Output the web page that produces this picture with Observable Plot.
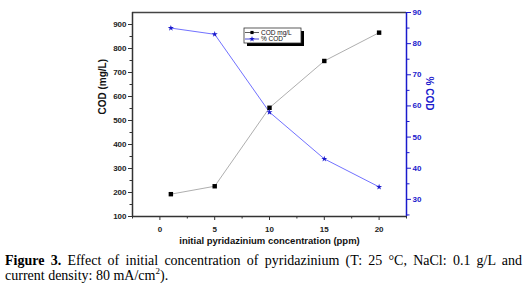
<!DOCTYPE html>
<html><head><meta charset="utf-8">
<script src="https://cdn.jsdelivr.net/npm/d3@7"></script>
<script src="https://cdn.jsdelivr.net/npm/@observablehq/plot@0.6"></script>
<style>
body{margin:0;background:#fff;width:527px;}
#chart svg{display:block;}
#cap{font-family:"Liberation Serif","Times New Roman",serif;font-size:14px;line-height:15px;color:#000;text-align:justify;padding:5px 5px 0 5px;margin:0;}
#cap sup{font-size:9px;line-height:0;}
</style></head>
<body><div id="chart"></div>
<p id="cap"><b>Figure 3.</b> Effect of initial concentration of pyridazinium (T: 25 °C, NaCl: 0.1 g/L and current density: 80 mA/cm<sup>2</sup>).</p>
<script>
const concentration = [1, 5, 10, 15, 20];
const codMgL = [193, 226, 553, 748, 866];
const pctCOD = [85, 83, 58, 43, 34];
const xTicks = [0, 5, 10, 15, 20];
const leftTicks = [100, 200, 300, 400, 500, 600, 700, 800, 900];
const rightTicks = [30, 40, 50, 60, 70, 80, 90];

const yDom = [100, 950];
const rDom = [24.5, 90];
const xDom = [-2.5, 22.5];
const toLeft = p => yDom[0] + (p - rDom[0]) / (rDom[1] - rDom[0]) * (yDom[1] - yDom[0]);

const codData = concentration.map((c, i) => ({x: c, y: codMgL[i]}));
const pctData = concentration.map((c, i) => ({x: c, p: pctCOD[i]}));

const xMinor = d3.range(xDom[0], xDom[1] + 0.01, 2.5).filter(v => !xTicks.includes(v));
const leftMinor = d3.range(150, 950, 100);
const rightMinor = d3.range(25, 90, 10);
const blue = "#1a1acc";
const font = "Liberation Sans, Arial, sans-serif";

const plot = Plot.plot({
  width: 527, height: 248,
  marginLeft: 132, marginRight: 121, marginTop: 12, marginBottom: 32,
  style: {fontFamily: font, fontSize: "8px", fontWeight: "bold", background: "#fff"},
  x: {domain: xDom},
  y: {domain: yDom},
  marks: [
    Plot.axisX({ticks: xTicks, tickSize: 4, tickPadding: 6, label: null, stroke: "#333", fill: "#222"}),
    Plot.axisX({ticks: xMinor, tickSize: 2.5, tickFormat: () => "", label: null, stroke: "#333"}),
    Plot.axisY({anchor: "left", ticks: leftTicks, tickSize: 4, tickPadding: 2, label: null, stroke: "#333", fill: "#222"}),
    Plot.axisY({anchor: "left", ticks: leftMinor, tickSize: 2.5, tickFormat: () => "", label: null, stroke: "#333"}),
    Plot.axisY({anchor: "right", ticks: rightTicks.map(toLeft), tickSize: 4, tickPadding: 2, label: null, stroke: blue, fill: blue,
      tickFormat: v => Math.round(rDom[0] + (v - yDom[0]) / (yDom[1] - yDom[0]) * (rDom[1] - rDom[0]))}),
    Plot.axisY({anchor: "right", ticks: rightMinor.map(toLeft), tickSize: 2.5, tickFormat: () => "", label: null, stroke: blue}),
    Plot.ruleY([yDom[1]], {stroke: "#444", strokeWidth: 1.5}),
    Plot.ruleY([yDom[0]], {stroke: "#333", strokeWidth: 1.5}),
    Plot.ruleX([xDom[0]], {stroke: "#333", strokeWidth: 1.5}),
    Plot.ruleX([xDom[1]], {stroke: blue, strokeWidth: 1.5}),
    Plot.line(codData, {x: "x", y: "y", stroke: "#999", strokeWidth: 0.8}),
    Plot.line(pctData, {x: "x", y: d => toLeft(d.p), stroke: "#3333ff", strokeWidth: 0.7}),
    Plot.dot(codData, {x: "x", y: "y", symbol: "square", r: 2.5, fill: "#000", stroke: "none"}),
    Plot.dot(pctData, {x: "x", y: d => toLeft(d.p), symbol: "star", r: 1.9, fill: blue, stroke: "none"}),
    Plot.text(["COD (mg/L)"], {frameAnchor: "left", dx: -30, rotate: -90, fontSize: 10, fontWeight: "bold", fill: "#111"}),
    Plot.text(["% COD"], {frameAnchor: "right", dx: 23, dy: -4, rotate: 90, fontSize: 10, fontWeight: "bold", fill: blue}),
    Plot.text(["initial pyridazinium concentration (ppm)"], {frameAnchor: "bottom", dy: 27, fontSize: 9.5, fontWeight: "bold", fill: "#111"})
  ]
});
document.getElementById("chart").appendChild(plot);

// legend
const svg = d3.select(plot);
const g = svg.append("g").attr("font-family", font).attr("font-size", 6.5).attr("font-weight", "normal").attr("text-anchor", "start");
g.append("rect").attr("x", 247).attr("y", 31).attr("width", 57).attr("height", 15).attr("fill", "#000");
g.append("rect").attr("x", 244).attr("y", 28).attr("width", 57).attr("height", 15).attr("fill", "#fff").attr("stroke", "#333").attr("stroke-width", 0.8);
const items = [{label: "COD mg/L", color: "#000", sym: d3.symbolSquare, line: "#333"}, {label: "% COD", color: blue, sym: d3.symbolStar, line: blue}];
items.forEach((it, i) => {
  const yy = 32.5 + i * 6.5;
  g.append("line").attr("x1", 245).attr("x2", 259).attr("y1", yy).attr("y2", yy).attr("stroke", it.line).attr("stroke-width", 0.8);
  g.append("path").attr("d", d3.symbol(it.sym, 10)()).attr("transform", `translate(252,${yy})`).attr("fill", it.color);
  g.append("text").attr("x", 261).attr("y", yy).attr("dy", "0.35em").attr("text-anchor", "start").attr("fill", "#111").text(it.label);
});
</script>
</body></html>
